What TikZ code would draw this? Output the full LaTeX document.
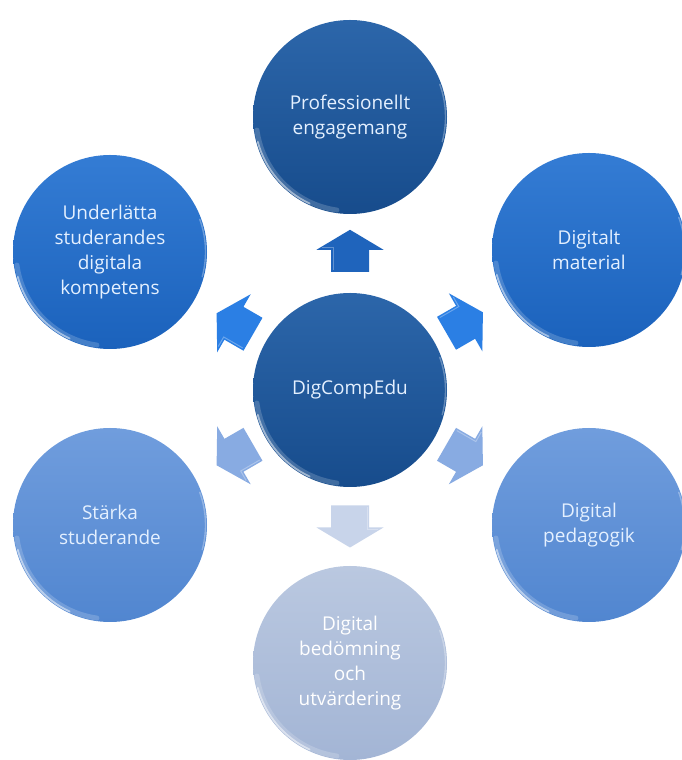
\documentclass[tikz,border=0pt]{standalone}
\usepackage{fontspec}
\setmainfont{Open Sans}
\usetikzlibrary{calc}
\definecolor{dkT}{HTML}{2C66AA}
\definecolor{dkB}{HTML}{174C8C}
\definecolor{mdT}{HTML}{347CD4}
\definecolor{mdB}{HTML}{1B62BC}
\definecolor{ltT}{HTML}{709DDD}
\definecolor{ltB}{HTML}{5186D0}
\definecolor{paT}{HTML}{BAC8E0}
\definecolor{paB}{HTML}{A3B5D5}
\definecolor{txt}{HTML}{E4F0FF}
\definecolor{arA}{HTML}{1F64BC}
\definecolor{arB}{HTML}{2B7FE4}
\definecolor{arC}{HTML}{88ABE2}
\definecolor{arD}{HTML}{C8D4EA}
\tikzset{
  ball/.style={circle, minimum size=194pt, inner sep=0pt, align=center,
    text=txt, font=\fontsize{19}{25}\selectfont},
  barrow/.pic={\fill[pic actions] (-19,-21) -- (19,-21) -- (19,1) -- (33.5,1)
    -- (0,21) -- (-33.5,1) -- (-19,1) -- cycle;
    \draw[white,opacity=.3,line width=1pt] (-17,-19) -- (-17,3) -- (-28,3);},
  rim/.style={white, line cap=round, opacity=.5, line width=1.8pt},
  rimsoft/.style={white, line cap=round, opacity=.18, line width=5pt}
}
\begin{document}
\begin{tikzpicture}[x=1pt,y=1pt]
\useasboundingbox[fill=white] (0,0) rectangle (681,760);
\node[ball, top color=dkT, bottom color=dkB] (c) at (350,370) {DigCompEdu};
\node[ball, top color=dkT, bottom color=dkB] (top) at (350,643) {Professionellt\\engagemang};
\node[ball, top color=mdT, bottom color=mdB] (ur) at (589,510) {Digitalt\\material};
\node[ball, top color=ltT, bottom color=ltB] (lr) at (589,235) {Digital\\pedagogik};
\node[ball, top color=paT, bottom color=paB, text=white] (bot) at (350,97) {Digital\\bedömning\\och\\utvärdering};
\node[ball, top color=ltT, bottom color=ltB] (ll) at (110,235) {Stärka\\studerande};
\node[ball, top color=mdT, bottom color=mdB] (ul) at (110,508) {Underlätta\\studerandes\\digitala\\kompetens};
\foreach \n in {c,top,ur,lr,bot,ll,ul}{
  \draw[rimsoft] ($(\n.center)+(188:94)$) arc (188:262:94);
  \draw[rim] ($(\n.center)+(195:95.5)$) arc (195:245:95.5);
  \draw[rim, opacity=.3, line width=1.4pt] ($(\n.center)+(-15:95.5)$) arc (-15:20:95.5);
}
\pic[fill=arA] at ($(c)!0.51!(top)$) {barrow};
\pic[fill=arB, rotate=60] at ($(c)!0.48!(ul)$) {barrow};
\pic[fill=arB, rotate=-60] at ($(c)!0.48!(ur)$) {barrow};
\pic[fill=arC, rotate=120] at ($(c)!0.48!(ll)$) {barrow};
\pic[fill=arC, rotate=-120] at ($(c)!0.48!(lr)$) {barrow};
\pic[fill=arD, rotate=180] at ($(c)!0.5!(bot)$) {barrow};
\end{tikzpicture}
\end{document}
